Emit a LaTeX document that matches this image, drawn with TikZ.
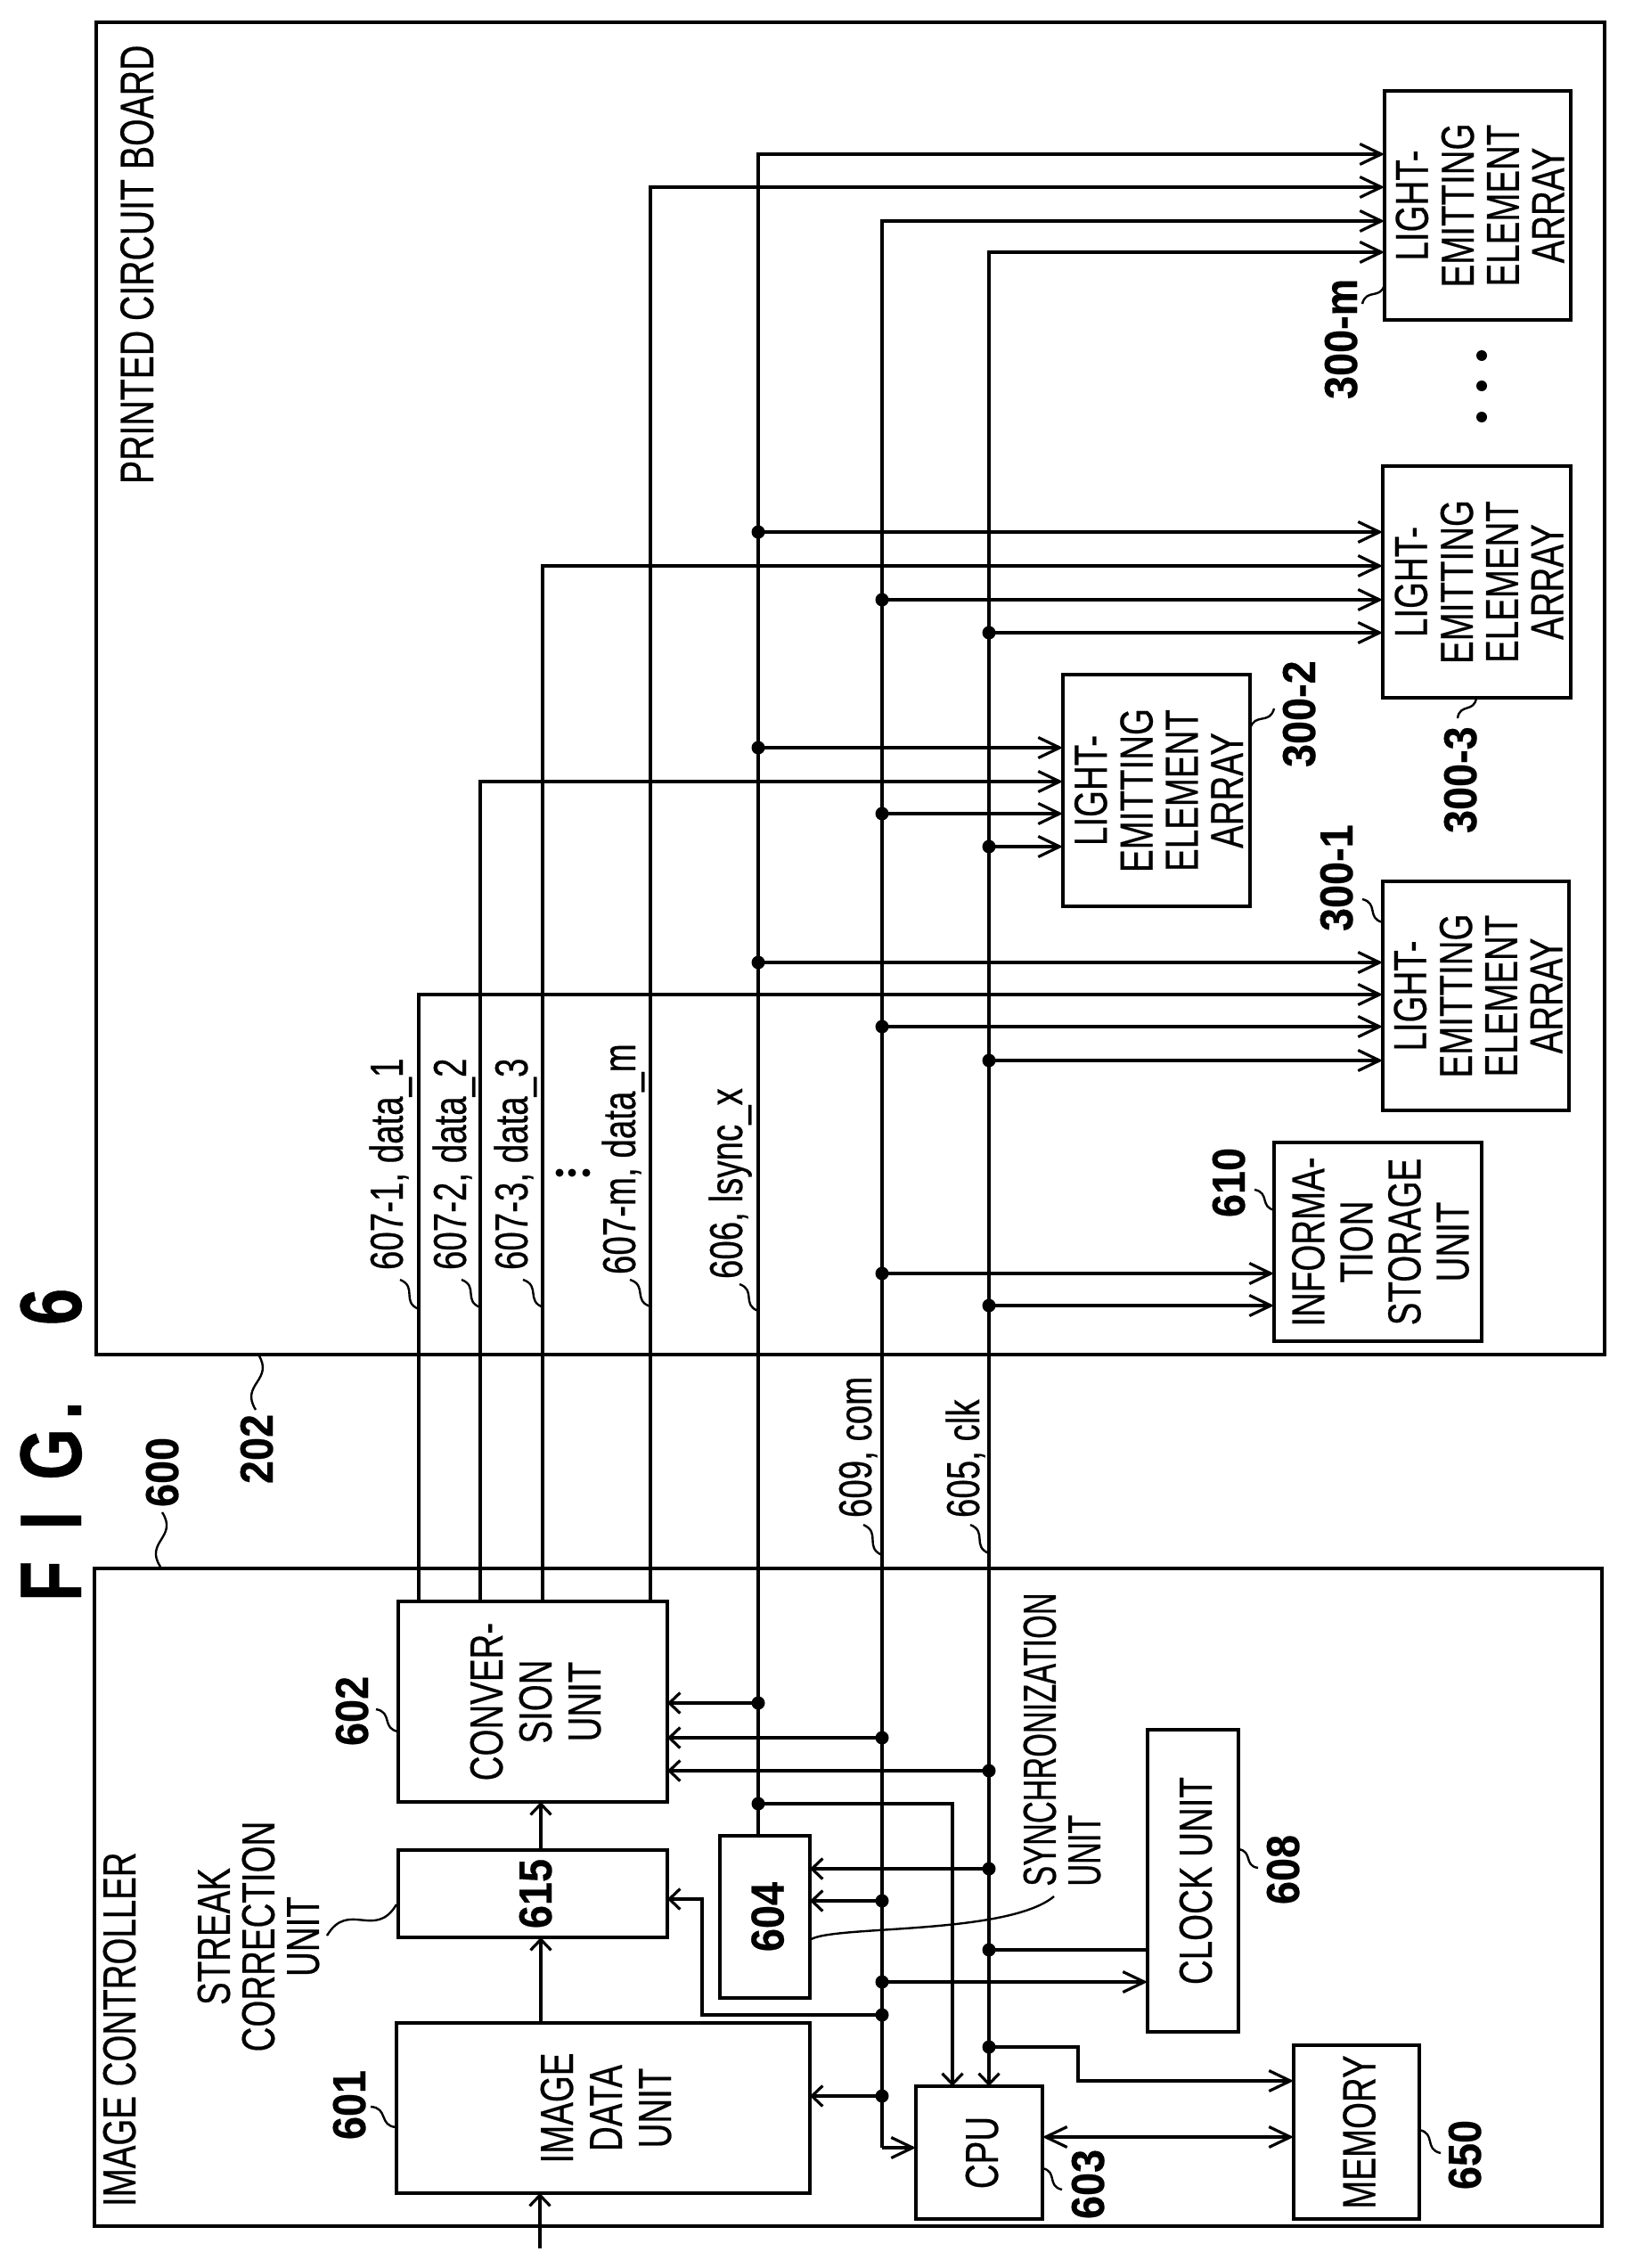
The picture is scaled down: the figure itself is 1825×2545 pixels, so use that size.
\documentclass[tikz,border=0pt]{standalone}
\usepackage{graphicx}
\usepackage{fontspec}
\usetikzlibrary{arrows.meta,calc}
\newfontfamily\rg[FakeStretch=.74,FakeBold=.4]{Liberation Sans}
\newfontfamily\rgn[FakeStretch=.66,FakeBold=.4]{Liberation Sans}
\newfontfamily\bd[FakeStretch=.9,FakeBold=.4]{Liberation Sans Bold}
\newfontfamily\bdf[FakeStretch=.76,FakeBold=.4]{Liberation Sans Bold}
\newcommand{\boxtext}[2]{\makebox[0pt]{\hspace*{20pt}\rotatebox{90}{\rg\fontsize{52}{#1}\selectfont\begin{tabular}{@{}c@{}}#2\end{tabular}}}}
\newcommand{\boxnum}[1]{\makebox[0pt]{\hspace*{20pt}\rotatebox{90}{\bd\fontsize{52}{55}\selectfont\begin{tabular}{@{}c@{}}#1\end{tabular}}}}
\newcounter{sq}
\newcommand{\squig}[2]{\stepcounter{sq}\coordinate (sa\thesq) at (#1);\coordinate (sb\thesq) at (#2);
  \draw[leadline] (sa\thesq) .. controls ($(sa\thesq)!.55!35:(sb\thesq)$) and ($(sb\thesq)!.55!35:(sa\thesq)$) .. (sb\thesq);}
\tikzset{
  x=1pt,y=-1pt,
  box/.style={draw,line width=3.2pt,inner sep=0pt,outer sep=0pt,align=center},
  rl/.style={rotate=90,anchor=base west,inner sep=0pt,outer sep=0pt,font=\rg\fontsize{52}{55}\selectfont},
  num/.style={rotate=90,anchor=base west,inner sep=0pt,outer sep=0pt,font=\bd\fontsize{52}{55}\selectfont},
  wire/.style={line width=3.2pt},
  tipL/.style={-{Straight Barb[length=24pt,width=23pt,line width=3.2pt]}},
  tipS/.style={-{Straight Barb[length=12pt,width=23pt,line width=3.2pt]}},
  tipD/.style={{Straight Barb[length=24pt,width=23pt,line width=3.2pt]}-{Straight Barb[length=24pt,width=23pt,line width=3.2pt]}},
  jdot/.style={circle,fill=black,draw=none,minimum size=15pt,inner sep=0pt,outer sep=0pt},
  sdot/.style={circle,fill=black,draw=none,minimum size=9pt,inner sep=0pt,outer sep=0pt},
  ldot/.style={circle,fill=black,draw=none,minimum size=12pt,inner sep=0pt,outer sep=0pt},
  leadline/.style={line width=2.4pt},
}
\begin{document}
\begin{tikzpicture}
\useasboundingbox (0,0) rectangle (1825,2545);
\fill[white] (0,0) rectangle (1825,2545);
% containers
\node[box,minimum width=1693pt,minimum height=1495pt] (pcb) at (954.5,772.5) {};
\node[box,minimum width=1692pt,minimum height=738pt] (ic) at (952,2129) {};
% blocks
\node[box,minimum width=209pt,minimum height=257pt] (am) at (1658.5,230.5) {\boxtext{50}{LIGHT-\\EMITTING\\ELEMENT\\ARRAY}};
\node[box,minimum width=211pt,minimum height=260pt] (a3) at (1657.5,653) {\boxtext{50}{LIGHT-\\EMITTING\\ELEMENT\\ARRAY}};
\node[box,minimum width=210pt,minimum height=260pt] (a2) at (1298,887) {\boxtext{50}{LIGHT-\\EMITTING\\ELEMENT\\ARRAY}};
\node[box,minimum width=209pt,minimum height=257pt] (a1) at (1656.5,1117.5) {\boxtext{50}{LIGHT-\\EMITTING\\ELEMENT\\ARRAY}};
\node[box,minimum width=233pt,minimum height=223pt] (info) at (1546.5,1393.5) {\boxtext{54}{INFORMA-\\TION\\STORAGE\\UNIT}};
\node[box,minimum width=302pt,minimum height=225pt] (conv) at (598,1909.5) {\boxtext{55}{CONVER-\\SION\\UNIT}};
\node[box,minimum width=302pt,minimum height=98pt] (sc) at (598,2125) {\boxnum{615}};
\node[box,minimum width=464pt,minimum height=191pt] (img) at (677,2365.5) {\boxtext{55}{IMAGE\\DATA\\UNIT}};
\node[box,minimum width=101pt,minimum height=182pt] (syn) at (858.5,2151) {\boxnum{604}};
\node[box,minimum width=142pt,minimum height=149pt] (cpu) at (1099,2415.5) {\boxtext{55}{CPU}};
\node[box,minimum width=102pt,minimum height=339pt] (clku) at (1339,2110.5) {\boxtext{55}{CLOCK UNIT}};
\node[box,minimum width=141pt,minimum height=195pt] (mem) at (1522.5,2392.5) {\boxtext{55}{MEMORY}};
% free labels
\node[rl,font=\rg\fontsize{53}{55}\selectfont] (tpcb) at (172,543) {PRINTED CIRCUIT BOARD};
\node[rl] (tic) at (152,2476) {IMAGE CONTROLLER};
\node[rotate=90,anchor=center,align=center,inner sep=0pt,font=\rg\fontsize{52}{50}\selectfont] (tsc) at (290,2173) {STREAK\\CORRECTION\\UNIT};
\node[rotate=90,anchor=center,align=left,inner sep=0pt,font=\rgn\fontsize{52}{50}\selectfont] (tsy) at (1192,1952) {SYNCHRONIZATION\\UNIT};
\node[rl,font=\bdf\fontsize{98}{100}\selectfont] (fig) at (91,1797) {F\hspace{35pt}I\hspace{35pt}G\hspace{10pt}.\hspace{85pt}6};
\node[num] (n600) at (200,1691) {600};
\node[num] (n202) at (306,1665) {202};
\node[num] (n602) at (413,1959) {602};
\node[num] (n601) at (410,2401) {601};
\node[num] (n608) at (1458,2137) {608};
\node[num] (n603) at (1239,2490) {603};
\node[num] (n650) at (1662,2457) {650};
\node[num] (n610) at (1397,1366) {610};
\node[num] (n3001) at (1518,1045) {300-1};
\node[num] (n3002) at (1476,861) {300-2};
\node[num] (n3003) at (1657,935) {300-3};
\node[num] (n300m) at (1523,448) {300-m};
\node[rl] (s1) at (452,1425) {607-1, data\_1};
\node[rl] (s2) at (523,1425) {607-2, data\_2};
\node[rl] (s3) at (592,1425) {607-3, data\_3};
\node[rl] (sm) at (713,1430) {607-m, data\_m};
\node[rl] (sl) at (833,1435) {606, lsync\_x};
\node[rl] (sc9) at (978,1703) {609, com};
\node[rl] (sc5) at (1099,1703) {605, clk};
% dots
\node[sdot] (v1) at (628,1316) {};
\node[sdot] (v2) at (642,1316) {};
\node[sdot] (v3) at (658,1316) {};
\node[ldot] (e1) at (1663,399) {};
\node[ldot] (e2) at (1663,433) {};
\node[ldot] (e3) at (1663,468) {};
% bus junctions
\foreach \y in {597,839,1080,1911,2024} \node[jdot] (L\y) at (851,\y) {};
\foreach \y in {673,913,1152,1429,1950,2133,2224,2261,2352} \node[jdot] (C\y) at (990,\y) {};
\foreach \y in {710,950,1190,1465,1987,2097,2188,2297} \node[jdot] (K\y) at (1110,\y) {};
% corners
\coordinate (d1) at (470,1116);
\coordinate (d2) at (539,877);
\coordinate (d3) at (609,635);
\coordinate (dm) at (730,210);
\coordinate (ltop) at (851,173);
\coordinate (ctop) at (990,248);
\coordinate (cbot) at (990,2410);
\coordinate (ktop) at (1110,283);
\coordinate (lc) at (1069,2024);
\coordinate (st1) at (788,2261);
\coordinate (st2) at (788,2131);
\coordinate (m1) at (1210,2297);
\coordinate (m2) at (1210,2335);
\coordinate (inp) at (606,2523);
\coordinate (cm) at (1170,2398);
\coordinate (vs) at (607,2200);
% data lines
\draw[wire,tipL] (d1 |- conv.north) -- (d1) -- (d1 -| a1.west);
\draw[wire,tipL] (d2 |- conv.north) -- (d2) -- (d2 -| a2.west);
\draw[wire,tipL] (d3 |- conv.north) -- (d3) -- (d3 -| a3.west);
\draw[wire,tipL] (dm |- conv.north) -- (dm) -- (dm -| am.west);
% lsync
\draw[wire,tipL] (ltop |- syn.north) -- (ltop) -- (ltop -| am.west);
\draw[wire,tipL] (L597.center) -- (L597 -| a3.west);
\draw[wire,tipL] (L839.center) -- (L839 -| a2.west);
\draw[wire,tipL] (L1080.center) -- (L1080 -| a1.west);
\draw[wire,tipS] (L1911.center) -- (L1911 -| conv.east);
\draw[wire,tipS] (L2024.center) -- (lc) -- (lc |- cpu.north);
% com
\draw[wire,tipL] (cbot) -- (ctop) -- (ctop -| am.west);
\draw[wire,tipL] (cbot) -- (cbot -| cpu.west);
\draw[wire,tipL] (C673.center) -- (C673 -| a3.west);
\draw[wire,tipL] (C913.center) -- (C913 -| a2.west);
\draw[wire,tipL] (C1152.center) -- (C1152 -| a1.west);
\draw[wire,tipL] (C1429.center) -- (C1429 -| info.west);
\draw[wire,tipS] (C1950.center) -- (C1950 -| conv.east);
\draw[wire,tipS] (C2133.center) -- (C2133 -| syn.east);
\draw[wire,tipL] (C2224.center) -- (C2224 -| clku.west);
\draw[wire,tipS] (C2261.center) -- (st1) -- (st2) -- (st2 -| sc.east);
\draw[wire,tipS] (C2352.center) -- (C2352 -| img.east);
% clk
\draw[wire,tipL] (K2297.center) -- (ktop) -- (ktop -| am.west);
\draw[wire,tipS] (K2297.center) -- (K2297 |- cpu.north);
\draw[wire,tipL] (K710.center) -- (K710 -| a3.west);
\draw[wire,tipL] (K950.center) -- (K950 -| a2.west);
\draw[wire,tipL] (K1190.center) -- (K1190 -| a1.west);
\draw[wire,tipL] (K1465.center) -- (K1465 -| info.west);
\draw[wire,tipS] (K1987.center) -- (K1987 -| conv.east);
\draw[wire,tipS] (K2097.center) -- (K2097 -| syn.east);
\draw[wire] (K2188.center) -- (K2188 -| clku.west);
\draw[wire,tipL] (K2297.center) -- (m1) -- (m2) -- (m2 -| mem.west);
\draw[wire,tipD] (cm) -- (cm -| mem.west);
% image path
\draw[wire,tipS] (inp) -- (inp |- img.south);
\draw[wire,tipS] (vs |- img.north) -- (vs |- sc.south);
\draw[wire,tipS] (vs |- sc.north) -- (vs |- conv.south);
% leaders
\squig{180,1758}{182,1697}
\squig{290,1520}{287,1582}
\squig{447,1943}{422,1918}
\squig{445,2387}{416,2364}
\squig{445,2137}{367,2172}
\coordinate (sya) at (909,2177);
\coordinate (syb) at (1183,2128);
\draw[leadline] (sya) .. controls (930,2160) and (1130,2172) .. (syb);
\squig{1390,2075}{1412,2096}
\squig{1170,2433}{1192,2457}
\squig{1593,2390}{1617,2416}
\squig{470,1469}{449,1436}
\squig{539,1467}{518,1436}
\squig{610,1467}{587,1436}
\squig{730,1466}{707,1436}
\squig{851,1471}{830,1441}
\squig{990,1745}{969,1711}
\squig{1110,1743}{1089,1711}
\squig{1431,1358}{1408,1335}
\squig{1552,1035}{1529,1009}
\squig{1403,818}{1430,795}
\squig{1657,783}{1636,806}
\squig{1554,319}{1529,341}
\end{tikzpicture}
\end{document}
